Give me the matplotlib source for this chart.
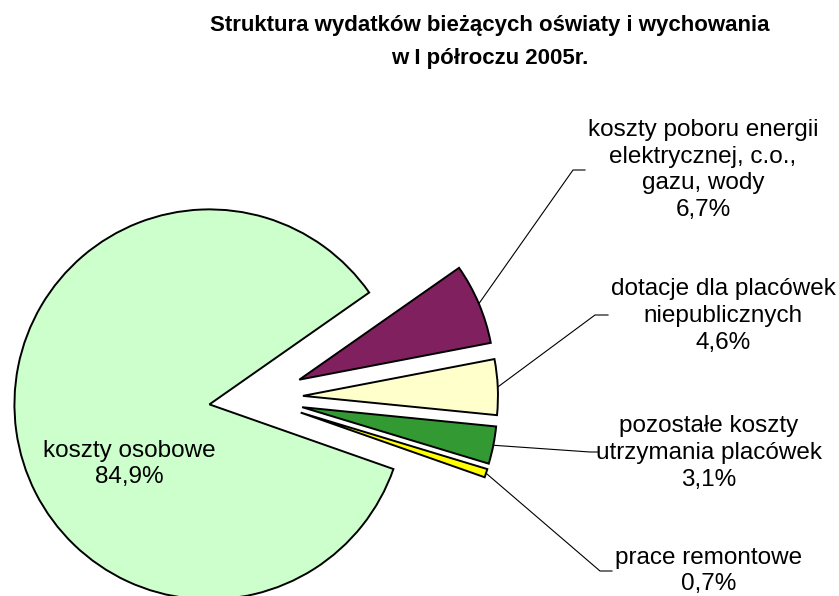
import numpy as np
import matplotlib
matplotlib.use("Agg")
from matplotlib import pyplot as plt

plt.rcParams['font.family'] = ['Liberation Sans', 'DejaVu Sans']

# data
categories = ["koszty osobowe", "prace remontowe", "pozostałe koszty\nutrzymania placówek",
              "dotacje dla placówek\nniepublicznych", "koszty poboru energii\nelektrycznej, c.o.,\ngazu, wody"]
shares = [84.9, 0.7, 3.1, 4.6, 6.7]
colors = ["#CCFFCC", "#FFFF00", "#339933", "#FFFFCC", "#80205F"]
title = "Struktura wydatków bieżących oświaty i wychowania\nw I półroczu 2005r."

fig = plt.figure(figsize=(8.39, 5.96), dpi=100)
ax = fig.add_axes([0, 0, 1, 1])

# pie drawn in pixel-like units (y goes negative downward)
R = 195
wedges, _ = ax.pie(shares, colors=colors, startangle=35, counterclock=True,
                   radius=R, center=(256, -398), explode=[47] * len(shares),
                   wedgeprops=dict(edgecolor="black", linewidth=1.4))
ax.set_xlim(0, 839)
ax.set_ylim(-596, 0)
ax.set_aspect('equal')
ax.axis('off')

def pct(v):
    return f"{v:.1f}%".replace(".", ",")

fs = 17.5
ls = 1.28
# big slice label inside
ax.text(129, -464, f"{categories[0]}\n{pct(shares[0])}", ha='center', va='center',
        fontsize=fs, linespacing=ls)

# outside labels: label centre, elbow, stub end
label_pos = {1: (709, -571), 2: (709, -453), 3: (723, -316), 4: (703, -170)}
elbows = {1: ((600, -571), (612, -571)), 2: ((590, -452), (598, -452)),
          3: ((595, -315), (608, -315)), 4: ((573, -170), (585, -170))}

for i, (lx, ly) in label_pos.items():
    ax.text(lx, ly, f"{categories[i]}\n{pct(shares[i])}", ha='center', va='center',
            fontsize=fs, linespacing=ls)
    w = wedges[i]
    th = np.deg2rad((w.theta1 + w.theta2) / 2)
    sx = w.center[0] + w.r * np.cos(th)
    sy = w.center[1] + w.r * np.sin(th)
    (ex, ey), (tx, ty) = elbows[i]
    ax.plot([sx, ex, tx], [sy, ey, ty], color='black', lw=0.8)

ax.text(490, -42, title, ha='center', va='center', fontsize=16, fontweight='bold',
        linespacing=1.75)

fig.savefig("out.png", dpi=100)
